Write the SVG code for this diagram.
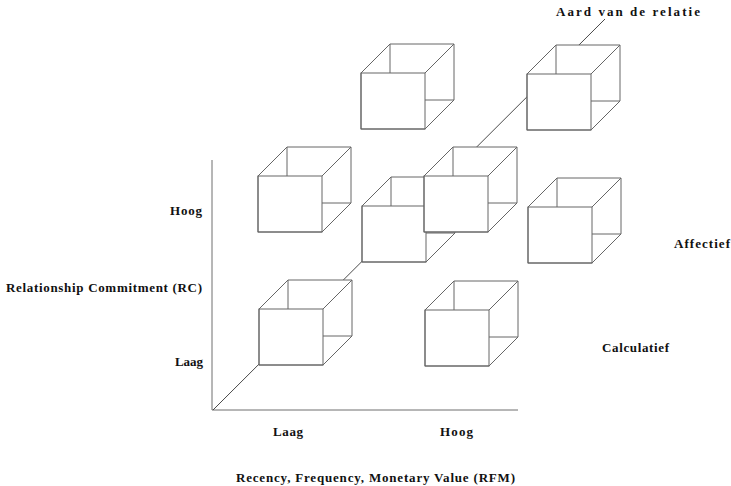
<svg xmlns="http://www.w3.org/2000/svg" xmlns:xlink="http://www.w3.org/1999/xlink" width="731" height="486" viewBox="0 0 731 486">
<style>
.ln{fill:none;stroke:#666;stroke-width:1}
.sil{fill:#fff;stroke:#666;stroke-width:1;stroke-linejoin:miter}
.axis{fill:none;stroke:#6e6e6e;stroke-width:1}
.diag{fill:none;stroke:#4a4a4a;stroke-width:1}
.t{font-family:"Liberation Serif","Times New Roman",serif;font-weight:bold;font-size:13px;fill:#111}
</style>
<defs>
<g id="cube">
<path class="sil" d="M0,56 L0,0 L29,-29 L93,-29 L93,27 L64,56 Z"/>
<path class="ln" d="M29,-29 V0 M64,27 H93 M64,0 L93,-29"/>
<rect class="ln" x="0" y="0" width="64" height="56"/>
</g>
</defs>
<rect width="731" height="486" fill="#fff"/>
<g id="connectors">
<path class="axis" d="M212,160 V410 H518"/>
<path class="diag" d="M213,410 L605,19"/>
</g>
<g id="cube-top-left"><use xlink:href="#cube" href="#cube" x="258" y="176"/></g>
<g id="cube-top-middle"><use xlink:href="#cube" href="#cube" x="361" y="73"/></g>
<g id="cube-top-right"><use xlink:href="#cube" href="#cube" x="527" y="74"/></g>
<g id="cube-middle"><use xlink:href="#cube" href="#cube" x="362" y="206"/></g>
<g id="cube-center"><use xlink:href="#cube" href="#cube" x="424" y="176"/></g>
<g id="cube-right"><use xlink:href="#cube" href="#cube" x="528" y="207"/></g>
<g id="cube-bottom-left"><use xlink:href="#cube" href="#cube" x="259" y="309"/></g>
<g id="cube-bottom-right"><use xlink:href="#cube" href="#cube" x="425" y="310"/></g>
<g id="labels">
<text class="t" x="556" y="16" textLength="144" lengthAdjust="spacing">Aard van de relatie</text>
<text class="t" x="170" y="215" textLength="32" lengthAdjust="spacing">Hoog</text>
<text class="t" x="6" y="292" textLength="196" lengthAdjust="spacing">Relationship Commitment (RC)</text>
<text class="t" x="175" y="366" textLength="28" lengthAdjust="spacing">Laag</text>
<text class="t" x="674" y="248" textLength="56" lengthAdjust="spacing">Affectief</text>
<text class="t" x="602" y="352" textLength="67" lengthAdjust="spacing">Calculatief</text>
<text class="t" x="273" y="436" textLength="30" lengthAdjust="spacing">Laag</text>
<text class="t" x="440" y="436" textLength="33" lengthAdjust="spacing">Hoog</text>
<text class="t" x="236" y="482" textLength="279" lengthAdjust="spacing">Recency, Frequency, Monetary Value (RFM)</text>
</g>
</svg>
